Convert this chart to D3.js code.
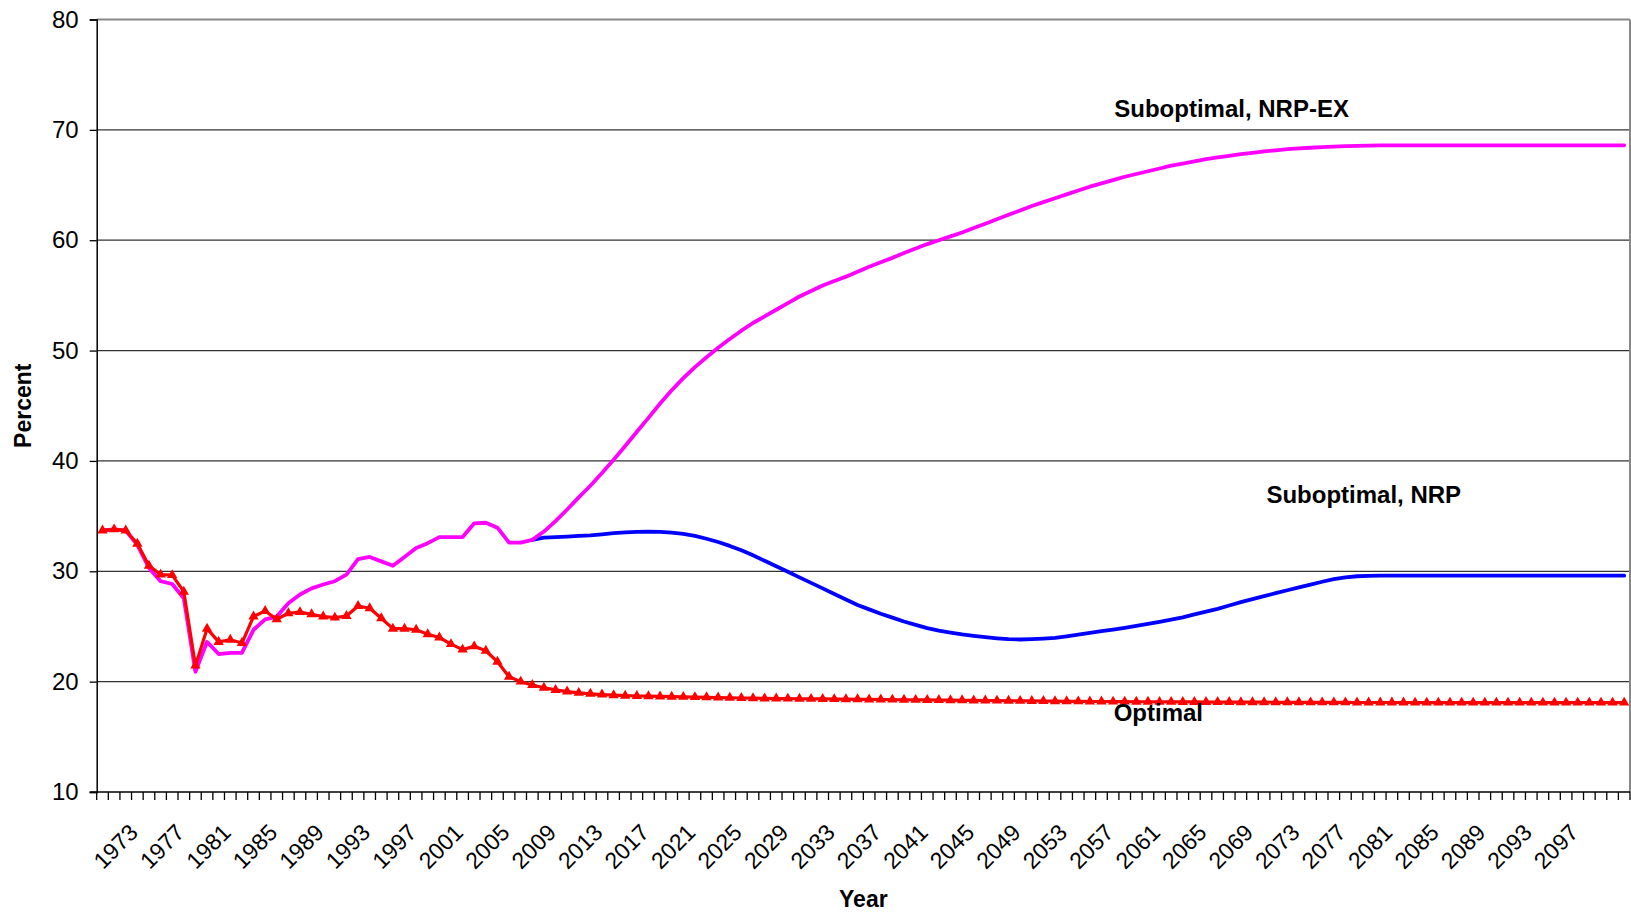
<!DOCTYPE html>
<html><head><meta charset="utf-8">
<script src="https://cdn.jsdelivr.net/npm/d3@7"></script>
<style>
body{margin:0;background:#fff}
svg{display:block}
text{font-family:"Liberation Sans",Arial,sans-serif;fill:#000}
</style>
</head><body>
<svg id="chart" width="1631" height="914"></svg>
<script>
// ---- data ----
const firstYear = 1970, lastYear = 2101;
const years = d3.range(firstYear, lastYear + 1);
const tickLabels = ["1973","1977","1981","1985","1989","1993","1997","2001","2005","2009",
  "2013","2017","2021","2025","2029","2033","2037","2041","2045","2049","2053","2057",
  "2061","2065","2069","2073","2077","2081","2085","2089","2093","2097"];
const yTicks = [10,20,30,40,50,60,70,80];

const optimal = [33.7,33.8,33.7,32.5,30.5,29.7,29.65,28.15,21.45,24.8,
 23.6,23.8,23.5,25.9,26.4,25.65,26.2,26.3,26.1,25.9,
 25.8,25.95,26.85,26.65,25.75,24.8,24.8,24.7,24.3,24.0,
 23.4,22.9,23.2,22.8,21.8,20.45,20.0,19.7,19.45,19.25,
 19.1,18.98,18.9,18.83,18.77,18.73,18.7,18.68,18.66,18.64,
 18.62,18.6,18.58,18.56,18.54,18.52,18.5,18.48,18.47,18.46,
 18.45,18.44,18.43,18.42,18.41,18.4,18.39,18.38,18.37,18.36,
 18.35,18.34,18.33,18.32,18.31,18.3,18.29,18.28,18.27,18.26,
 18.25,18.24,18.23,18.22,18.21,18.2,18.2,18.19,18.19,18.18,
 18.18,18.17,18.17,18.16,18.16,18.15,18.15,18.15,18.14,18.14,
 18.14,18.13,18.13,18.13,18.12,18.12,18.12,18.12,18.11,18.11,
 18.11,18.11,18.11,18.1,18.1,18.1,18.1,18.1,18.1,18.1,
 18.1,18.1,18.1,18.1,18.1,18.1,18.1,18.1,18.1,18.1,
 18.1,18.1];

const nrpEx = [33.7,33.8,33.7,32.4,30.3,29.1,28.85,27.55,20.9,23.6,
 22.5,22.6,22.6,24.7,25.65,25.9,27.1,27.9,28.45,28.8,
 29.1,29.7,31.1,31.3,30.9,30.5,31.3,32.1,32.55,33.1,
 33.1,33.1,34.35,34.4,33.95,32.6,32.6,32.85,33.6,34.55,
 35.6,36.7,37.75,38.9,40.1,41.35,42.65,43.9,45.2,46.4,
 47.5,48.5,49.4,50.25,51.05,51.8,52.5,53.1,53.7,54.3,
 54.9,55.4,55.9,56.3,56.7,57.15,57.6,58.0,58.4,58.85,
 59.25,59.65,60.0,60.35,60.7,61.1,61.5,61.9,62.3,62.7,
 63.1,63.45,63.8,64.15,64.5,64.85,65.15,65.45,65.75,66.0,
 66.25,66.5,66.75,66.95,67.15,67.35,67.5,67.65,67.8,67.92,
 68.05,68.15,68.25,68.32,68.38,68.43,68.48,68.52,68.55,68.57,
 68.6,68.6,68.6,68.6,68.6,68.6,68.6,68.6,68.6,68.6,
 68.6,68.6,68.6,68.6,68.6,68.6,68.6,68.6,68.6,68.6,
 68.6,68.6];

const nrpStart = 2007;
const nrp = [32.85,33.05,33.1,33.15,33.2,33.25,33.35,33.45,33.52,33.58,
 33.6,33.58,33.5,33.38,33.2,32.95,32.65,32.3,31.9,31.45,
 30.95,30.45,29.95,29.45,28.95,28.45,27.95,27.45,26.95,26.55,
 26.15,25.8,25.45,25.15,24.85,24.62,24.45,24.28,24.15,24.03,
 23.93,23.85,23.82,23.85,23.9,23.97,24.1,24.25,24.42,24.58,
 24.72,24.88,25.05,25.23,25.42,25.62,25.83,26.1,26.35,26.6,
 26.9,27.2,27.48,27.75,28.02,28.28,28.55,28.8,29.05,29.28,
 29.45,29.55,29.58,29.6,29.6,29.6,29.6,29.6,29.6,29.6,
 29.6,29.6,29.6,29.6,29.6,29.6,29.6,29.6,29.6,29.6,
 29.6,29.6,29.6,29.6,29.6];

const annotations = [
  {text:"Suboptimal, NRP-EX", year:2057.6, value:71.2},
  {text:"Suboptimal, NRP",    year:2070.7, value:36.15},
  {text:"Optimal",            year:2057.55, value:16.4}
];

// ---- layout ----
const svg = d3.select("#chart");
const L = 96.7, R = 1630, T = 19.5, B = 792;

const x = d3.scaleBand().domain(years).range([L, R]).padding(0);
const xc = yr => x(yr) + x.bandwidth() / 2;
const xLin = d3.scaleLinear().domain([firstYear, lastYear + 1]).range([L, R]);
const y = d3.scaleLinear().domain([10, 80]).range([B, T]);

// gridlines
svg.append("g").selectAll("line").data(yTicks.filter(v => v > 10 && v < 80)).join("line")
  .attr("x1", L).attr("x2", R).attr("y1", d => y(d)).attr("y2", d => y(d))
  .attr("stroke", "#333").attr("stroke-width", 1.3);

// plot border top & right
svg.append("line").attr("x1", L).attr("x2", R).attr("y1", y(80)).attr("y2", y(80))
  .attr("stroke", "#888").attr("stroke-width", 2);
svg.append("line").attr("x1", R).attr("x2", R).attr("y1", y(80)).attr("y2", B)
  .attr("stroke", "#888").attr("stroke-width", 2);

// y axis
const yAxis = d3.axisLeft(y).tickValues(yTicks).tickSize(7).tickPadding(11);
const gy = svg.append("g").attr("transform", `translate(${L},0)`).call(yAxis);
gy.select(".domain").attr("stroke", "#000").attr("stroke-width", 1.5);
gy.selectAll(".tick line").attr("stroke", "#000").attr("stroke-width", 1.3);
gy.selectAll(".tick text").style("font-size", "24px").style("font-family", '"Liberation Sans",Arial,sans-serif');

// x axis
svg.append("line").attr("x1", L - 7).attr("x2", R).attr("y1", B).attr("y2", B)
  .attr("stroke", "#000").attr("stroke-width", 1.5);
const tickYears = years.concat([lastYear + 1]);
svg.append("g").selectAll("line").data(tickYears).join("line")
  .attr("x1", d => xLin(d)).attr("x2", d => xLin(d))
  .attr("y1", B).attr("y2", B + 8)
  .attr("stroke", "#000").attr("stroke-width", 1.3);
svg.append("g").selectAll("text").data(tickLabels).join("text")
  .attr("transform", d => `translate(${xc(+d) + 2},834) rotate(-45)`)
  .attr("text-anchor", "end")
  .style("font-size", "23px")
  .text(d => d);

// axis titles
svg.append("text").attr("transform", `translate(31,${(T + B) / 2}) rotate(-90)`)
  .attr("text-anchor", "middle").style("font-size", "23px").style("font-weight", "bold")
  .text("Percent");
svg.append("text").attr("x", (L + R) / 2).attr("y", 907)
  .attr("text-anchor", "middle").style("font-size", "23px").style("font-weight", "bold")
  .text("Year");

// lines
const line = d3.line().x(d => xc(d.year)).y(d => y(d.v));
const nrpData = nrp.map((v, i) => ({year: nrpStart + i, v}));
const exData = nrpEx.map((v, i) => ({year: firstYear + i, v}));
const optData = optimal.map((v, i) => ({year: firstYear + i, v}));

svg.append("path").datum(nrpData).attr("d", line)
  .attr("fill", "none").attr("stroke", "#0000FF").attr("stroke-width", 3.8)
  .attr("stroke-linejoin", "round").attr("stroke-linecap", "round");
svg.append("path").datum(exData).attr("d", line)
  .attr("fill", "none").attr("stroke", "#FF00FF").attr("stroke-width", 3.8)
  .attr("stroke-linejoin", "round").attr("stroke-linecap", "round");
svg.append("path").datum(optData).attr("d", line)
  .attr("fill", "none").attr("stroke", "#FF0000").attr("stroke-width", 3.2)
  .attr("stroke-linejoin", "round");
const tri = d3.symbol().type(d3.symbolTriangle).size(46);
svg.append("g").selectAll("path").data(optData).join("path")
  .attr("transform", d => `translate(${xc(d.year)},${y(d.v)})`)
  .attr("d", tri).attr("fill", "#FF0000");

// annotations
svg.append("g").selectAll("text").data(annotations).join("text")
  .attr("x", d => xLin(d.year)).attr("y", d => y(d.value))
  .style("font-size", "24px").style("font-weight", "bold")
  .text(d => d.text);
</script>
</body></html>
